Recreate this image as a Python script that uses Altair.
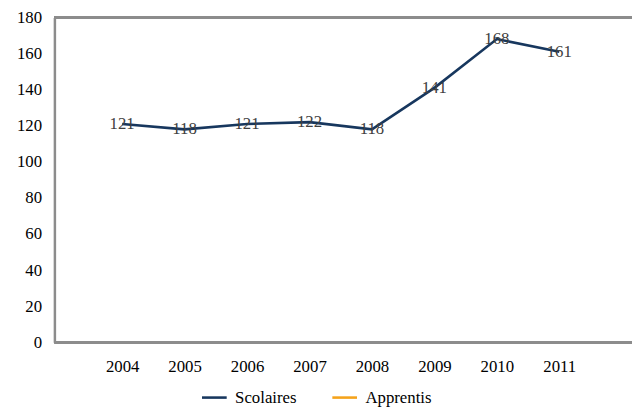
import altair as alt
import pandas as pd

years = ["2004", "2005", "2006", "2007", "2008", "2009", "2010", "2011"]
scolaires = [121, 118, 121, 122, 118, 141, 168, 161]
series_names = ["Scolaires", "Apprentis"]
series_colors = ["#17375E", "#F5A31A"]
y_ticks = [0, 20, 40, 60, 80, 100, 120, 140, 160, 180]

df = pd.DataFrame({"year": years, "value": scolaires, "serie": ["Scolaires"] * len(years)})

FONT = "Liberation Serif"
FS = 17
W, H = 585, 329

x_enc = alt.X("year:N", sort=years,
              scale=alt.Scale(type="point", range=[37, 543]),
              axis=alt.Axis(title=None, labelAngle=0, ticks=False, domain=False,
                            labelFont=FONT, labelFontSize=FS,
                            labelColor="#000000", labelPadding=17))
y_enc = alt.Y("value:Q", scale=alt.Scale(domain=[0, 180], nice=False),
              axis=alt.Axis(title=None, values=y_ticks, ticks=False, grid=False,
                            labelOverlap=False,
                            domainColor="#8C8C8C", domainWidth=2.5, labelFont=FONT,
                            labelFontSize=FS, labelColor="#000000", labelPadding=13))

line = alt.Chart(df).mark_line(strokeWidth=2.6).encode(
    x=x_enc,
    y=y_enc,
    color=alt.Color("serie:N", scale=alt.Scale(domain=series_names, range=series_colors),
                    legend=alt.Legend(title=None, orient="none", direction="horizontal",
                                      legendX=148, legendY=371, symbolType="stroke",
                                      symbolSize=625, symbolStrokeWidth=2.6,
                                      labelFont=FONT, labelFontSize=FS, labelColor="#000000",
                                      columnPadding=30, symbolOffset=0, labelOffset=7)),
)

labels = alt.Chart(df).mark_text(font=FONT, fontSize=FS, color="#404040",
                                 baseline="middle", align="center").encode(
    x=x_enc, y=y_enc, text="value:Q")

top_line = alt.Chart(df).mark_rule(color="#8C8C8C", strokeWidth=2.5).encode(
    x=alt.value(0), x2=alt.value(W), y=alt.value(0))
bottom_line = alt.Chart(df).mark_rule(color="#8C8C8C", strokeWidth=2.5).encode(
    x=alt.value(0), x2=alt.value(W), y=alt.value(H))

chart = alt.layer(line, labels, top_line, bottom_line).properties(
    width=W, height=H,
    background="white",
    autosize=alt.AutoSizeParams(type="none"),
    padding={"left": 47, "top": 7, "right": 0, "bottom": 66},
).configure(
    font=FONT,
    view=alt.ViewConfig(strokeWidth=0),
    axis=alt.AxisConfig(labelFont=FONT, labelFontSize=FS, labelColor="#000000", labelOverlap=False),
    legend=alt.LegendConfig(labelFont=FONT, labelFontSize=FS, labelColor="#000000"),
)

chart.save("out.html", embed_options={"renderer": "svg", "actions": False})
